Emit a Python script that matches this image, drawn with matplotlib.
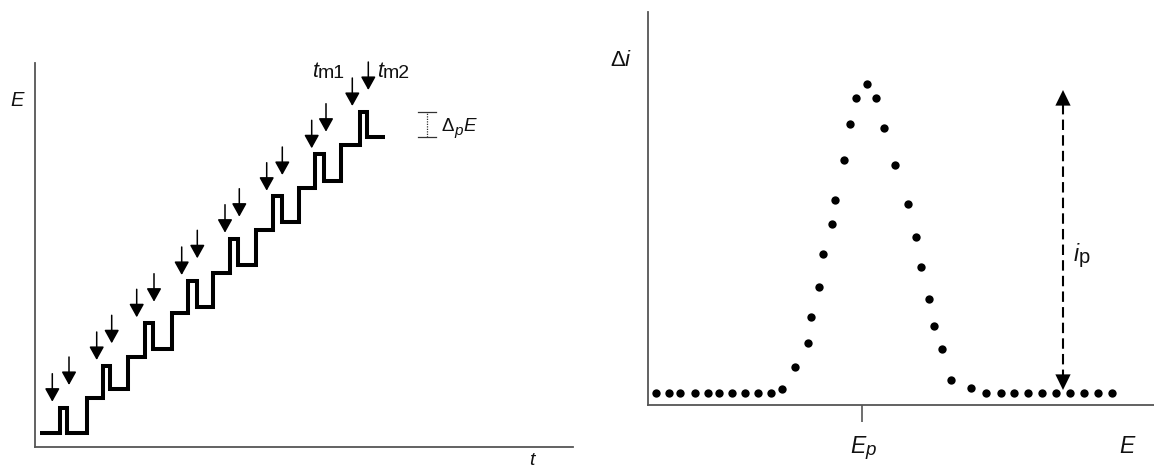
import matplotlib

matplotlib.use("Agg")
import matplotlib.pyplot as plt
from matplotlib.transforms import Affine2D, offset_copy

plt.rcParams["font.family"] = ["Liberation Sans", "DejaVu Sans"]

# --- left panel: staircase potential with superimposed pulses ---
# one entry per cycle (t and E in arbitrary units)
cycle_start = [5, 51.7, 93.3, 136.7, 178.3, 220.7, 264, 305.7]
pulse_on = [25, 68.3, 110, 153.3, 195, 238.3, 280, 325]
pulse_off = [31.7, 75, 118.3, 161.7, 203.3, 246.7, 289, 331.7]
last_end = 350
level_before = [14.3, 48.7, 90.3, 133.7, 173.7, 217, 258.7, 302]
level_pulse = [38.7, 81, 123.7, 166.3, 208, 251.3, 293, 335.3]
level_after = [14.3, 57.7, 97.7, 139.7, 182, 225.3, 266, 309.7]

# current sampling times (tm1 before the pulse, tm2 at its end) and arrow tips
t_m1 = [17.3, 61.7, 101.7, 146.7, 190, 231.7, 276.7, 317.3]
tip_m1 = [45.3, 87, 129.7, 172, 214.3, 256.3, 298.7, 341]
t_m2 = [34, 76.7, 119, 162.3, 204.3, 247.3, 291, 333.3]
tip_m2 = [62, 103.7, 145.3, 188.7, 230.3, 272, 315.3, 357]

# --- right panel: differential current vs potential ---
E_pts = [8, 21, 31.5, 47, 60, 71, 84, 97, 110, 123, 134,
         146.5, 160.3, 162.6, 171.1, 175.3, 184.2, 186.6, 196, 202, 208.2,
         219,
         228.3, 236.2, 247, 259.8, 268.3, 273.2, 280.6, 285.6, 293.7, 302.9,
         323, 338, 352.5, 366, 380, 394, 408, 422, 436, 450, 464]
di_pts = [12.3, 12.3, 12.3, 12.3, 12.3, 12.3, 12.3, 12.3, 12.3, 12.3, 16.5,
          37.7, 61.7, 88, 118.3, 150.7, 181.3, 205, 245, 281, 307.5,
          321,
          307.5, 276.7, 240, 201, 168.3, 137.7, 105.7, 79.3, 55.7, 25,
          16.7, 12.3, 12.3, 12.3, 12.3, 12.3, 12.3, 12.3, 12.3, 12.3, 12.3]
E_peak = 214
ip_E = 415
ip_bottom, ip_top = 15, 315

W, H = 1154, 471
INK = "#111111"
AXIS = "#555555"
ARROW_LEN = 28

fig = plt.figure(figsize=(W / 100, H / 100), dpi=100)
# pixel coordinates measured from the top-left corner
px = Affine2D().scale(1 / W, -1 / H).translate(0, 1) + fig.transFigure


def box(x0, y0, x1, y1):
    return [x0 / W, 1 - y1 / H, (x1 - x0) / W, (y1 - y0) / H]


def style_axes(ax):
    for side in ("top", "right"):
        ax.spines[side].set_visible(False)
    for side in ("left", "bottom"):
        ax.spines[side].set_color(AXIS)
        ax.spines[side].set_linewidth(1.3)
    ax.set_yticks([])


def chain_text(x, y, pieces):
    """Write pieces (text, size, style, rise) one after another on a baseline."""
    renderer = fig.canvas.get_renderer()
    dx = 0.0
    for s, size, style, rise in pieces:
        tr = offset_copy(px, fig=fig, x=dx, y=rise, units="points")
        t = fig.text(x, y, s, transform=tr, fontsize=size, fontstyle=style,
                     ha="left", va="baseline", color=INK)
        dx += t.get_window_extent(renderer).width * 72 / fig.dpi


ax1 = fig.add_axes(box(35, 63, 573, 447))
ax2 = fig.add_axes(box(648, 12, 1154, 405))
style_axes(ax1)
style_axes(ax2)
ax1.set_xticks([])
ax1.set_xlim(0, 538)
ax1.set_ylim(0, 384)
ax2.set_xlim(0, 506)
ax2.set_ylim(0, 393)

# staircase trace
ends = cycle_start[1:] + [last_end]
xs, ys = [], []
for k in range(len(cycle_start)):
    xs += [cycle_start[k], pulse_on[k], pulse_on[k], pulse_off[k], pulse_off[k], ends[k]]
    ys += [level_before[k], level_before[k], level_pulse[k], level_pulse[k],
           level_after[k], level_after[k]]
ax1.plot(xs, ys, color="black", lw=2.9, solid_joinstyle="miter",
         solid_capstyle="butt")

# sampling arrows
for t_list, tips in ((t_m1, tip_m1), (t_m2, tip_m2)):
    for t, e in zip(t_list, tips):
        ax1.annotate("", xy=(t, e), xytext=(t, e + ARROW_LEN),
                     annotation_clip=False,
                     arrowprops=dict(arrowstyle="-|>,head_length=0.45,head_width=0.25",
                                     mutation_scale=18, lw=1.1, color="black",
                                     shrinkA=0, shrinkB=0))

# pulse amplitude bracket
bx0, bx1 = 383.3, 401
bxm = (bx0 + bx1) / 2
for lv in (level_after[-1], level_pulse[-1]):
    ax1.plot([bx0, bx1], [lv, lv], color="#333333", lw=0.9, clip_on=False)
ax1.plot([bxm, bxm], [level_after[-1], level_pulse[-1]], color="#333333",
         lw=0.9, ls=(0, (1, 1)), clip_on=False)

# differential pulse peak
ax2.plot(E_pts, di_pts, "o", color="black", ms=6, mew=0, clip_on=False)
ax2.set_xticks([E_peak])
ax2.set_xticklabels([""])
ax2.tick_params(axis="x", direction="out", length=12.5, width=1.2, color=AXIS)

# peak height arrow
ax2.plot([ip_E, ip_E], [ip_bottom + 10, ip_top - 10], color="black", lw=1.5,
         ls=(0, (5, 2.5)))
for tip, tail in ((ip_top, ip_top - 12), (ip_bottom, ip_bottom + 12)):
    ax2.annotate("", xy=(ip_E, tip), xytext=(ip_E, tail),
                 arrowprops=dict(arrowstyle="-|>,head_length=0.45,head_width=0.22",
                                 mutation_scale=25, lw=0, color="black",
                                 shrinkA=0, shrinkB=0))

# labels
fig.text(17, 101, "E", transform=px, fontsize=14.5, fontstyle="italic",
         ha="center", va="center", color=INK)
fig.text(532, 465, "t", transform=px, fontsize=14, fontstyle="italic",
         ha="center", va="baseline", color=INK)
chain_text(312, 77, [("t", 15.5, "italic", 0), ("m1", 14, "normal", -0.8)])
chain_text(377, 77, [("t", 15.5, "italic", 0), ("m2", 14, "normal", -0.8)])
chain_text(442, 131, [("\u0394", 13.5, "normal", 0), ("p", 11, "italic", -3),
                      ("E", 13.5, "italic", 0)])

chain_text(610, 66.5, [("\u0394", 16, "normal", 0), ("i", 16, "italic", 0)])
chain_text(850, 453, [("E", 16.5, "italic", 0), ("p", 13.5, "italic", -1.5)])
chain_text(1119, 453, [("E", 16.5, "italic", 0)])
chain_text(1074, 261, [("i", 16.5, "italic", 0), ("p", 14.5, "normal", -1.5)])

fig.savefig("out.png", dpi=100)
